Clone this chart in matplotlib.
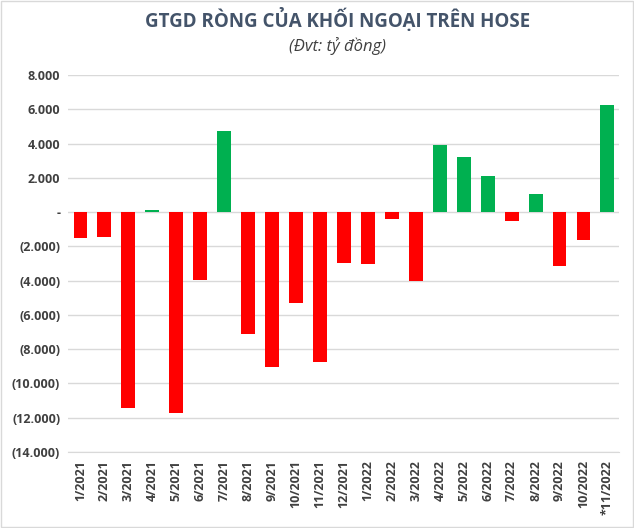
import matplotlib.pyplot as plt
from matplotlib.patches import Rectangle
from matplotlib.ticker import FuncFormatter

# Data (tỷ đồng)
months = ['1/2021', '2/2021', '3/2021', '4/2021', '5/2021', '6/2021', '7/2021',
          '8/2021', '9/2021', '10/2021', '11/2021', '12/2021', '1/2022', '2/2022',
          '3/2022', '4/2022', '5/2022', '6/2022', '7/2022', '8/2022', '9/2022',
          '10/2022', '*11/2022']
values = [-1490, -1430, -11430, 100, -11720, -3980, 4710,
          -7110, -9040, -5310, -8750, -2970, -3030, -400,
          -4020, 3890, 3190, 2080, -510, 1070, -3150,
          -1630, 6220]

RED = '#FF0000'
GREEN = '#00B050'
TEXT = '#404040'

plt.rcParams['font.family'] = ['Open Sans', 'DejaVu Sans']

fig = plt.figure(figsize=(6.34, 5.28), dpi=100)
ax = fig.add_axes([0.108, 0.144, 0.869, 0.714])

colors = [GREEN if v > 0 else RED for v in values]
ax.bar(range(len(months)), values, width=0.58, color=colors, zorder=3)

ax.set_xlim(-0.5, len(months) - 0.5)
ax.set_ylim(-14000, 8000)
ax.set_yticks(range(-14000, 8001, 2000))


def fmt(v, pos):
    v = int(round(v))
    if v == 0:
        return '-'
    s = f'{abs(v):,}'.replace(',', '.')
    return f'({s})' if v < 0 else s


ax.yaxis.set_major_formatter(FuncFormatter(fmt))
ax.set_xticks(range(len(months)))
ax.set_xticklabels(months, rotation=90)

ax.grid(axis='y', color='#D9D9D9', linewidth=1, zorder=0)
for side in ['top', 'right', 'left']:
    ax.spines[side].set_visible(False)
ax.spines['bottom'].set_color('#D9D9D9')
ax.tick_params(length=0, colors=TEXT, labelsize=9, pad=6)
for lbl in ax.get_xticklabels() + ax.get_yticklabels():
    lbl.set_fontweight('bold')

fig.text(0.533, 0.962, 'GTGD RÒNG CỦA KHỐI NGOẠI TRÊN HOSE', ha='center', va='center',
         fontsize=13.5, fontweight='bold', color='#44546A')
fig.text(0.533, 0.912, '(Đvt: tỷ đồng)', ha='center', va='center',
         fontsize=12, style='italic', color=TEXT)

fig.patches.append(Rectangle((0.002, 0.002), 0.996, 0.996, transform=fig.transFigure,
                             fill=False, edgecolor='#D9D9D9', linewidth=1))

fig.savefig('out.png', dpi=100, facecolor='white')
